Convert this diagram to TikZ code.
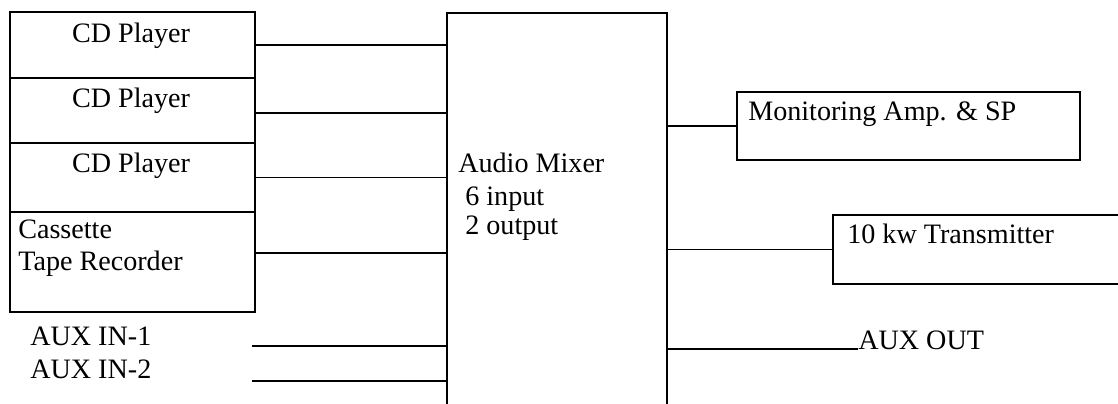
\documentclass[tikz,border=0pt]{standalone}
\usepackage{fontspec}
\setmainfont{Liberation Serif}
\tikzset{
  unit/.style={draw, line width=1.1pt, inner sep=0pt},
  txt/.style={font=\fontsize{20}{24}\selectfont, inner sep=0pt},
  wire/.style={line width=1.1pt}
}
\begin{document}
\begin{tikzpicture}[x=0.025cm,y=-0.025cm]
\clip (0,0) rectangle (1118,403);
% source units
\node[unit, minimum width=6.125cm, minimum height=1.650cm] (cd1) at (132.5,45) {};
\node[unit, minimum width=6.125cm, minimum height=1.625cm] (cd2) at (132.5,110.5) {};
\node[unit, minimum width=6.125cm, minimum height=1.725cm] (cd3) at (132.5,177.5) {};
\node[unit, minimum width=6.125cm, minimum height=2.500cm] (tape) at (132.5,262) {};
\node[txt, anchor=base] (cd1txt) at (131,42) {CD Player};
\node[txt, anchor=base] (cd2txt) at (131,107) {CD Player};
\node[txt, anchor=base] (cd3txt) at (131,172) {CD Player};
\node[txt, anchor=base west] (tapetxta) at (18,238) {Cassette};
\node[txt, anchor=base west] (tapetxtb) at (18,270) {Tape Recorder};
\node[txt, anchor=base west] (auxina) at (30,345) {AUX IN-1};
\node[txt, anchor=base west] (auxinb) at (30,378) {AUX IN-2};
\coordinate (auxa) at (252,346);
\coordinate (auxb) at (252,381);
% mixer
\node[unit, minimum width=5.5cm, minimum height=10.175cm] (mixer) at (557,216.5) {};
\node[txt, anchor=base west] (mixtxta) at (458,172) {Audio Mixer};
\node[txt, anchor=base west] (mixtxtb) at (465,205) {6 input};
\node[txt, anchor=base west] (mixtxtc) at (465,234) {2 output};
% outputs
\node[unit, minimum width=8.575cm, minimum height=1.700cm] (mon) at (908.5,126) {};
\node[unit, minimum width=7.425cm, minimum height=1.725cm] (tx) at (981.5,249.5) {};
\node[txt, anchor=base west] (montxt) at (748,120) {Monitoring Amp. \& SP};
\node[txt, anchor=base west] (txtxt) at (847,243) {10 kw Transmitter};
\node[txt, anchor=base west] (auxout) at (858,349) {AUX OUT};
% wiring
\draw[wire] (cd1.east) -- (cd1.east -| mixer.west);
\draw[wire] ([yshift=-0.06cm]cd2.east) -- ([yshift=-0.06cm]cd2.east -| mixer.west);
\draw[wire] (cd3.east) -- (cd3.east -| mixer.west);
\draw[wire] ([yshift=0.225cm]tape.east) -- ([yshift=0.225cm]tape.east -| mixer.west);
\draw[wire] (auxa) -- (auxa -| mixer.west);
\draw[wire] (auxb) -- (auxb -| mixer.west);
\draw[wire] (mon.west -| mixer.east) -- (mon.west);
\draw[wire] (tx.west -| mixer.east) -- (tx.west);
\draw[wire] (auxout.base west -| mixer.east) -- (auxout.base west);
\end{tikzpicture}
\end{document}
